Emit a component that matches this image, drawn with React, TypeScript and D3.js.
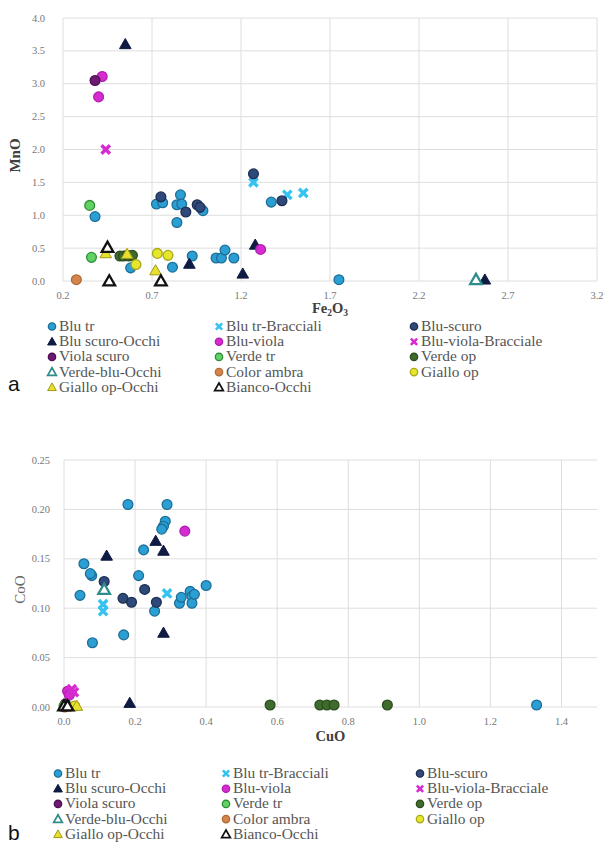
import React from "react";
import * as d3 from "d3";

type Pt = [number, number];

// ---------- series definitions ----------
const seriesNames = [
  "Blu tr", "Blu tr-Bracciali", "Blu-scuro",
  "Blu scuro-Occhi", "Blu-viola", "Blu-viola-Bracciale",
  "Viola scuro", "Verde tr", "Verde op",
  "Verde-blu-Occhi", "Color ambra", "Giallo op",
  "Giallo op-Occhi", "Bianco-Occhi",
];
const seriesShapes = [
  "circle", "x", "circle",
  "tri", "circle", "x",
  "circle", "circle", "circle",
  "triOpen", "circle", "circle",
  "tri", "triOpen",
];
const seriesFills = [
  "#2b9fd3", "#35c3ef", "#2f4a7a",
  "#0f1b42", "#d62bd0", "#d62bd0",
  "#6e1a72", "#62d266", "#3f6b2c",
  "#ffffff", "#d4854c", "#e6e62c",
  "#e8e030", "#ffffff",
];
const seriesStrokes = [
  "#1d6f98", "#35c3ef", "#1e2f52",
  "#0f1b42", "#b01fb0", "#d62bd0",
  "#4e1052", "#2f8f34", "#2c4d1f",
  "#2e8c8c", "#b06a35", "#a8a818",
  "#a09a10", "#111111",
];

// ---------- chart a: Fe2O3 (x) vs MnO (y) ----------
const aBluTr: Pt[] = [
  [0.38, 0.98], [0.725, 1.17], [0.76, 1.19], [0.84, 1.16], [0.86, 1.31], [0.867, 1.17],
  [0.84, 0.89], [0.986, 1.07], [0.58, 0.2], [0.815, 0.21], [0.926, 0.38], [1.06, 0.35],
  [1.09, 0.35], [1.11, 0.47], [1.16, 0.35], [1.37, 1.2], [1.75, 0.02],
];
const aBluTrBracciali: Pt[] = [[1.27, 1.5], [1.46, 1.31], [1.55, 1.34]];
const aBluScuro: Pt[] = [[0.75, 1.28], [0.89, 1.05], [0.954, 1.16], [0.97, 1.12], [1.27, 1.63], [1.43, 1.22]];
const aBluScuroOcchi: Pt[] = [[0.55, 3.6], [0.91, 0.26], [1.21, 0.11], [1.28, 0.55], [2.57, 0.02]];
const aBluViola: Pt[] = [[0.42, 3.11], [0.4, 2.8], [1.31, 0.48]];
const aBluViolaBracciale: Pt[] = [[0.44, 2.0]];
const aViolaScuro: Pt[] = [[0.38, 3.05]];
const aVerdeTr: Pt[] = [[0.35, 1.15], [0.36, 0.36]];
const aVerdeOp: Pt[] = [[0.52, 0.38], [0.54, 0.38], [0.56, 0.39], [0.57, 0.38], [0.59, 0.39]];
const aVerdeBluOcchi: Pt[] = [[2.52, 0.02]];
const aColorAmbra: Pt[] = [[0.275, 0.02]];
const aGialloOp: Pt[] = [[0.61, 0.25], [0.73, 0.42], [0.79, 0.39]];
const aGialloOpOcchi: Pt[] = [[0.44, 0.42], [0.56, 0.41], [0.72, 0.16]];
const aBiancoOcchi: Pt[] = [[0.45, 0.51], [0.46, 0.0], [0.75, 0.0]];

const aXTicks = [0.2, 0.7, 1.2, 1.7, 2.2, 2.7, 3.2];
const aYTicks = [0.0, 0.5, 1.0, 1.5, 2.0, 2.5, 3.0, 3.5, 4.0];

// ---------- chart b: CuO (x) vs CoO (y) ----------
const bBluTr: Pt[] = [
  [0.18, 0.205], [0.29, 0.205], [0.285, 0.188], [0.28, 0.183], [0.275, 0.18], [0.224, 0.159],
  [0.056, 0.145], [0.078, 0.133], [0.074, 0.135], [0.21, 0.133], [0.045, 0.113], [0.255, 0.097],
  [0.325, 0.105], [0.33, 0.111], [0.355, 0.117], [0.36, 0.112], [0.36, 0.105], [0.367, 0.114],
  [0.4, 0.123], [0.168, 0.073], [0.08, 0.065], [1.33, 0.002],
];
const bBluTrBracciali: Pt[] = [[0.29, 0.115], [0.11, 0.104], [0.11, 0.097]];
const bBluScuro: Pt[] = [[0.113, 0.127], [0.166, 0.11], [0.19, 0.106], [0.227, 0.119], [0.26, 0.106]];
const bBluScuroOcchi: Pt[] = [[0.12, 0.153], [0.258, 0.168], [0.28, 0.158], [0.28, 0.075], [0.185, 0.004], [0.005, 0.002]];
const bBluViola: Pt[] = [[0.34, 0.178], [0.01, 0.016], [0.015, 0.012]];
const bBluViolaBracciale: Pt[] = [[0.022, 0.018], [0.028, 0.015]];
const bViolaScuro: Pt[] = [[0.004, 0.003]];
const bVerdeTr: Pt[] = [[0.0, 0.001]];
const bVerdeOp: Pt[] = [[0.58, 0.002], [0.72, 0.002], [0.74, 0.002], [0.76, 0.002], [0.91, 0.002]];
const bVerdeBluOcchi: Pt[] = [[0.113, 0.119]];
const bColorAmbra: Pt[] = [[0.002, 0.0]];
const bGialloOp: Pt[] = [[0.03, 0.001]];
const bGialloOpOcchi: Pt[] = [[0.036, 0.001]];
const bBiancoOcchi: Pt[] = [[0.0, 0.001], [0.01, 0.001]];

const bXTicks = [0.0, 0.2, 0.4, 0.6, 0.8, 1.0, 1.2, 1.4];
const bYTicks = [0.0, 0.05, 0.1, 0.15, 0.2, 0.25];

const aData: Pt[][] = [
  aBluTr, aBluTrBracciali, aBluScuro, aBluScuroOcchi, aBluViola, aBluViolaBracciale,
  aViolaScuro, aVerdeTr, aVerdeOp, aVerdeBluOcchi, aColorAmbra, aGialloOp, aGialloOpOcchi, aBiancoOcchi,
];
const bData: Pt[][] = [
  bBluTr, bBluTrBracciali, bBluScuro, bBluScuroOcchi, bBluViola, bBluViolaBracciale,
  bViolaScuro, bVerdeTr, bVerdeOp, bVerdeBluOcchi, bColorAmbra, bGialloOp, bGialloOpOcchi, bBiancoOcchi,
];

const SERIF = "'Liberation Serif', 'Times New Roman', serif";
const SANS = "'Liberation Sans', Arial, sans-serif";

function Marker({ shape, x, y, fill, stroke, s = 1 }: any) {
  if (shape === "circle") {
    return <circle cx={x} cy={y} r={4.9 * s} fill={fill} stroke={stroke} strokeWidth={1.3} />;
  }
  if (shape === "tri" || shape === "triOpen") {
    const h = 5.8 * s;
    const p = `M${x},${y - h} L${x + h},${y + h * 0.75} L${x - h},${y + h * 0.75} Z`;
    return (
      <path d={p} fill={fill} stroke={stroke} strokeWidth={shape === "triOpen" ? 2.3 * s : 1} strokeLinejoin="miter" />
    );
  }
  // x marker (bold cross)
  const r = 4.2 * s;
  return (
    <path
      d={`M${x - r},${y - r} L${x + r},${y + r} M${x + r},${y - r} L${x - r},${y + r}`}
      stroke={fill}
      strokeWidth={3.4 * s}
      fill="none"
    />
  );
}

function Chart(props: any) {
  const {
    data, xDomain, yDomain, xTicks, yTicks, yFmt, xFmt, left, right, top, bottom,
    yLabelX, xLabelY, yTitle, yTitleX, yTitleBold, xTitle, xTitleY,
  } = props;
  const xs = d3.scaleLinear().domain(xDomain).range([left, right]);
  const ys = d3.scaleLinear().domain(yDomain).range([bottom, top]);
  const grid = "#dedede";
  return (
    <g>
      {yTicks.map((t: number) => (
        <line key={"gy" + t} x1={left} x2={right} y1={ys(t)} y2={ys(t)} stroke={grid} strokeWidth={1} />
      ))}
      {xTicks.map((t: number) => (
        <line key={"gx" + t} x1={xs(t)} x2={xs(t)} y1={top} y2={bottom} stroke={grid} strokeWidth={1} />
      ))}
      {yTicks.map((t: number) => (
        <text key={"ly" + t} x={yLabelX} y={ys(t) + 3.5} textAnchor="end" fontFamily={SERIF} fontSize={10.5} fill="#777">
          {yFmt(t)}
        </text>
      ))}
      {xTicks.map((t: number) => (
        <text key={"lx" + t} x={xs(t)} y={xLabelY} textAnchor="middle" fontFamily={SERIF} fontSize={10.5} fill="#777">
          {xFmt(t)}
        </text>
      ))}
      <text
        transform={`translate(${yTitleX},${(top + bottom) / 2 + 6}) rotate(-90)`}
        textAnchor="middle"
        fontFamily={SERIF}
        fontSize={15}
        fontWeight={yTitleBold ? "bold" : "normal"}
        fill={yTitleBold ? "#404040" : "#666"}
      >
        {yTitle}
      </text>
      <text x={(left + right) / 2} y={xTitleY} textAnchor="middle" fontFamily={SERIF} fontSize={14.5} fontWeight="bold" fill="#404040">
        {xTitle}
      </text>
      {data.map((pts: Pt[], si: number) =>
        pts.map((p, i) => (
          <Marker
            key={si + "-" + i}
            shape={seriesShapes[si]}
            x={xs(p[0])}
            y={ys(p[1])}
            fill={seriesFills[si]}
            stroke={seriesStrokes[si]}
          />
        ))
      )}
    </g>
  );
}

function Legend({ x0, y0, colX, rowH }: any) {
  return (
    <g>
      {seriesNames.map((name, i) => {
        const col = i % 3;
        const row = Math.floor(i / 3);
        const mx = x0 + colX[col];
        const my = y0 + row * rowH;
        return (
          <g key={name}>
            <Marker shape={seriesShapes[i]} x={mx} y={my - 4.5} fill={seriesFills[i]} stroke={seriesStrokes[i]} s={0.75} />
            <text
              transform={`translate(${mx + 7},${my}) scale(1.1,1)`}
              fontFamily={SERIF}
              fontSize={14}
              fill="#555"
            >
              {name}
            </text>
          </g>
        );
      })}
    </g>
  );
}

export default function App() {
  const f1 = d3.format(".1f");
  const f2 = d3.format(".2f");
  return (
    <svg width={609} height={847} style={{ position: "absolute", left: 0, top: 0, background: "#fff" }}>
      <rect width={609} height={847} fill="#fff" />
      <Chart
        data={aData}
        xDomain={[0.2, 3.2]}
        yDomain={[0, 4]}
        xTicks={aXTicks}
        yTicks={aYTicks}
        xFmt={f1}
        yFmt={f1}
        left={63}
        right={597}
        top={18}
        bottom={281}
        yLabelX={45}
        xLabelY={299}
        yTitle="MnO"
        yTitleX={20}
        yTitleBold={true}
        xTitle={
          <>
            Fe<tspan fontSize={9.5} dy={3}>2</tspan>
            <tspan dy={-3}>O</tspan>
            <tspan fontSize={9.5} dy={3}>3</tspan>
          </>
        }
        xTitleY={313}
      />
      <Legend x0={52} y0={331} colX={[0, 167, 362]} rowH={15.2} />
      <text x={8} y={391} fontFamily={SANS} fontSize={21} fill="#111">a</text>

      <Chart
        data={bData}
        xDomain={[0, 1.5]}
        yDomain={[0, 0.25]}
        xTicks={bXTicks}
        yTicks={bYTicks}
        xFmt={f1}
        yFmt={f2}
        left={64}
        right={597}
        top={460}
        bottom={707}
        yLabelX={50}
        xLabelY={725}
        yTitle="CoO"
        yTitleX={25}
        yTitleBold={false}
        xTitle="CuO"
        xTitleY={741}
      />
      <Legend x0={58} y0={778} colX={[0, 168, 362]} rowH={15.2} />
      <text x={8} y={840} fontFamily={SANS} fontSize={21} fill="#111">b</text>
    </svg>
  );
}
